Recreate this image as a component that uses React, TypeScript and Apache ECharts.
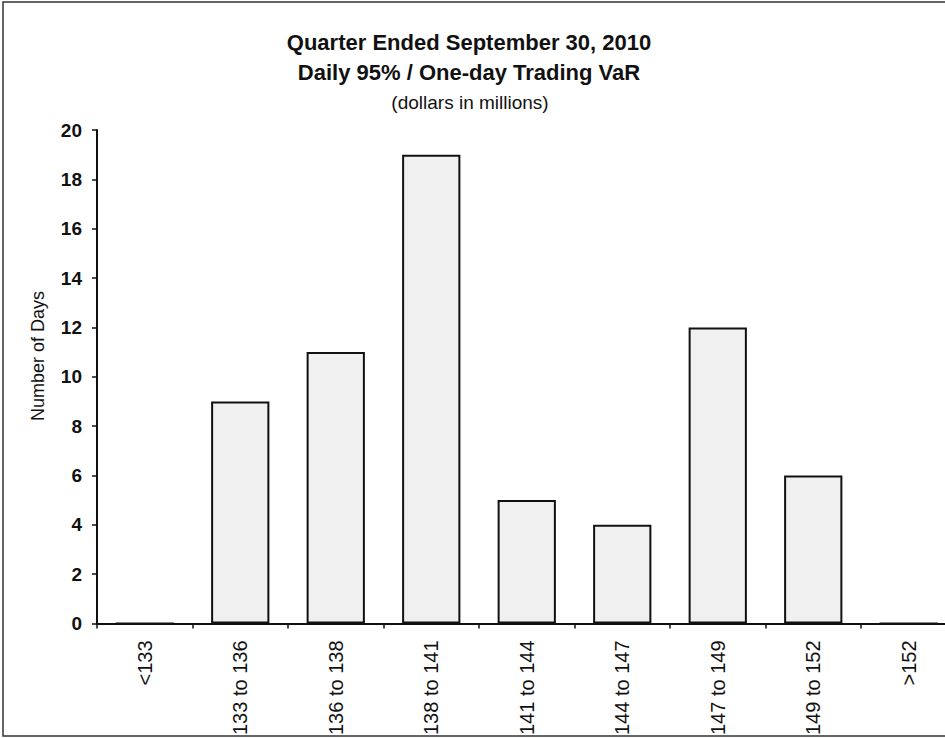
import React, { useEffect, useRef } from "react";
import * as echarts from "echarts";

const categories = ["<133", "133 to 136", "136 to 138", "138 to 141", "141 to 144", "144 to 147", "147 to 149", "149 to 152", ">152"];
const days = [0, 9, 11, 19, 5, 4, 12, 6, 0];
const titleLines = ["Quarter Ended September 30, 2010", "Daily 95% / One-day Trading VaR"];
const subtitle = "(dollars in millions)";
const yAxisName = "Number of Days";

export default function App() {
  const ref = useRef<HTMLDivElement>(null);
  useEffect(() => {
    document.body.style.margin = "0";
    document.body.style.overflow = "hidden";
    if (!ref.current) return;
    const chart = echarts.init(ref.current, null, { renderer: "svg" });
    const font = "'Liberation Sans', Arial, sans-serif";
    chart.setOption({
      animation: false,
      backgroundColor: "#ffffff",
      textStyle: { fontFamily: font },
      graphic: [
        { type: "rect", shape: { x: 3, y: 2, width: 965, height: 734 }, style: { fill: "none", stroke: "#333", lineWidth: 1.5 }, z: 0 },
        { type: "text", x: 469, y: 42, style: { text: titleLines[0], font: "bold 22px " + font, fill: "#111", textAlign: "center", textVerticalAlign: "middle" } },
        { type: "text", x: 469, y: 72, style: { text: titleLines[1], font: "bold 22px " + font, fill: "#111", textAlign: "center", textVerticalAlign: "middle" } },
        { type: "text", x: 470, y: 102, style: { text: subtitle, font: "19px " + font, fill: "#111", textAlign: "center", textVerticalAlign: "middle" } },
        { type: "text", x: 38, y: 356, rotation: Math.PI / 2, style: { text: yAxisName, font: "18px " + font, fill: "#111", textAlign: "center", textVerticalAlign: "middle" } },
      ],
      grid: { left: 97, right: 3.5, top: 130, bottom: 114, containLabel: false },
      xAxis: {
        type: "category",
        data: categories,
        axisLine: { lineStyle: { color: "#111", width: 2 } },
        axisTick: { show: true, length: 5, lineStyle: { color: "#111", width: 1.5 } },
        axisLabel: { rotate: 90, margin: 17, fontSize: 20, color: "#111", fontFamily: font },
      },
      yAxis: {
        type: "value",
        min: 0,
        max: 20,
        interval: 2,
        splitLine: { show: false },
        axisLine: { show: true, lineStyle: { color: "#111", width: 2 } },
        axisTick: { show: true, length: 5, lineStyle: { color: "#111", width: 1.5 } },
        axisLabel: { fontSize: 19, fontWeight: "bold", color: "#111", margin: 15, fontFamily: font },
      },
      series: [
        {
          type: "bar",
          data: days,
          barCategoryGap: "39%",
          itemStyle: { color: "#f0f0f0", borderColor: "#111", borderWidth: 2 },
        },
      ],
    });
    return () => chart.dispose();
  }, []);
  return <div ref={ref} style={{ width: 960, height: 738 }} />;
}
